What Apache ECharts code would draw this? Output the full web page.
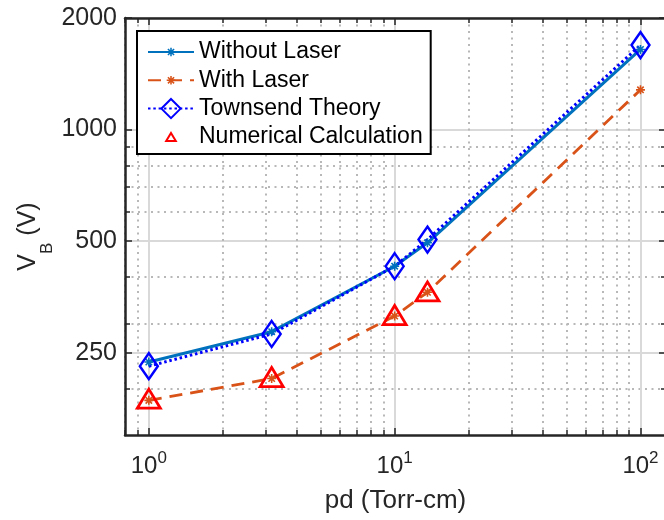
<!DOCTYPE html>
<html>
<head>
<meta charset="utf-8">
<title>Breakdown voltage vs pd</title>
<script src="https://cdn.jsdelivr.net/npm/echarts@6/dist/echarts.min.js"></script>
<style>
  html, body { margin: 0; padding: 0; background: #fff; }
  #chart { width: 664px; height: 520px; }
</style>
</head>
<body>
<div id="chart"></div>
<script>
// pd (Torr-cm)
const pd = [1, 3.16, 10, 13.6, 100];
// breakdown voltage V_B (V)
const withoutLaser = [236, 285, 428, 495, 1645];
const withLaser = [186, 213, 314, 364, 1280];
const townsend = [230, 281, 428, 505, 1690];
const numerical = [188, 215, 316, 366]; // only the first four pd values

// tick values
const xMajor = [1, 10, 100];
const xMinor = [0.8, 0.9, 2, 3, 4, 5, 6, 7, 8, 9, 20, 30, 40, 50, 60, 70, 80, 90];
const yMajor = [250, 500, 1000, 2000];
const yMinor = [200, 300, 400, 600, 700, 800, 900];

const font = 'Liberation Sans';
const axisColor = '#262626';

// marker shapes, padded with empty points so legend icons stay small
const asterisk = 'path://M-4.5,-0.8H4.5V0.8H-4.5Z M-0.8,-4.5H0.8V4.5H-0.8Z ' +
  'M-2.63,-3.77L3.77,2.63L2.63,3.77L-3.77,-2.63Z M-3.77,2.63L2.63,-3.77L3.77,-2.63L-2.63,3.77Z ' +
  'M-10,-10L-10,-10 M10,10L10,10';
const triangle = 'path://M0,-4.15L5,4.15L-5,4.15Z M-10,-10L-10,-10 M10,10L10,10';

function pairs(xs, ys) {
  return ys.map((y, i) => [xs[i], y]);
}

// one log axis; major axes carry lines/labels, minor ones only dotted grid
function axis(position, min, max, ticks, extra) {
  return Object.assign({
    type: 'log',
    logBase: 10,
    position: position,
    min: min,
    max: max,
    nameMoveOverlap: false,
    axisLine: { show: false, onZero: false },
    axisTick: { show: true, inside: true, length: 5, customValues: ticks,
      lineStyle: { color: axisColor, width: 1.5 } },
    axisLabel: { show: false },
    splitLine: { show: false }
  }, extra);
}

const majorGrid = { show: true, lineStyle: { color: '#d9d9d9', width: 2 } };
const minorGrid = { show: true, lineStyle: { color: '#b8b8b8', width: 2, type: [2, 4.5] } };
const line = { show: true, onZero: false, lineStyle: { color: axisColor, width: 2.5 } };
const majorTick = { show: true, inside: true, length: 7, lineStyle: { color: axisColor, width: 1.5 } };

const chart = echarts.init(document.getElementById('chart'));

chart.setOption({
  animation: false,
  backgroundColor: '#fff',
  grid: { left: 125, top: 18, width: 541, height: 417, outerBoundsMode: 'none' },
  legend: {
    orient: 'vertical',
    left: 137,
    top: 31,
    padding: [9, 8, 5, 10],
    itemWidth: 46,
    itemHeight: 24,
    itemGap: 4.3,
    backgroundColor: '#fff',
    borderColor: '#000',
    borderWidth: 2,
    selectedMode: false,
    textStyle: { fontFamily: font, fontSize: 23, color: '#000', lineHeight: 24 },
    data: ['Without Laser', 'With Laser', 'Townsend Theory', 'Numerical Calculation']
  },
  xAxis: [
    axis('bottom', 0.8, 127, xMajor, {
      axisLine: line,
      axisTick: Object.assign({ customValues: xMajor }, majorTick),
      axisLabel: {
        show: true, margin: 15, customValues: xMajor,
        formatter: v => '{b|10}{s|' + Math.round(Math.log10(v)) + '}',
        rich: {
          b: { fontFamily: font, fontSize: 24, lineHeight: 24, padding: [4, 0, 0, 0], verticalAlign: 'top', color: axisColor },
          s: { fontFamily: font, fontSize: 17, lineHeight: 17, verticalAlign: 'top', color: axisColor }
        }
      },
      splitLine: majorGrid,
      name: 'pd (Torr-cm)',
      nameLocation: 'middle',
      nameGap: 53,
      nameTextStyle: { fontFamily: font, fontSize: 26, color: axisColor }
    }),
    axis('bottom', 0.8, 127, xMinor, { splitLine: minorGrid }),
    axis('top', 0.8, 127, xMajor, { axisLine: line, axisTick: Object.assign({ customValues: xMajor }, majorTick) }),
    axis('top', 0.8, 127, xMinor, {})
  ],
  yAxis: [
    axis('left', 150, 2000, yMajor, {
      axisLine: line,
      axisTick: Object.assign({ customValues: yMajor }, majorTick),
      axisLabel: {
        show: true, margin: 8, customValues: yMajor,
        formatter: v => String(Math.round(v)),
        fontFamily: font, fontSize: 25, color: axisColor
      },
      splitLine: majorGrid,
      name: '{a|V}{b|B}{a| (V)}',
      nameLocation: 'middle',
      nameRotate: 90,
      nameGap: 84,
      nameTextStyle: {
        color: axisColor,
        padding: [0, 20, 0, 0],
        rich: {
          a: { fontFamily: font, fontSize: 25, lineHeight: 25, verticalAlign: 'top', color: axisColor },
          b: { fontFamily: font, fontSize: 17, lineHeight: 14, padding: [23, 0, 0, 0], verticalAlign: 'top', color: axisColor }
        }
      }
    }),
    axis('left', 150, 2000, yMinor, { splitLine: minorGrid }),
    axis('right', 150, 2000, yMajor, { axisLine: line, axisTick: Object.assign({ customValues: yMajor }, majorTick) }),
    axis('right', 150, 2000, yMinor, {})
  ],
  series: [
    {
      name: 'Without Laser',
      type: 'line',
      data: pairs(pd, withoutLaser),
      symbol: asterisk,
      symbolSize: 20,
      itemStyle: { color: '#0072BD', borderWidth: 0 },
      lineStyle: { color: '#0072BD', width: 3 }
    },
    {
      name: 'With Laser',
      type: 'line',
      data: pairs(pd, withLaser),
      symbol: asterisk,
      symbolSize: 20,
      itemStyle: { color: '#D95319', borderWidth: 0 },
      lineStyle: { color: '#D95319', width: 2.8, type: [13, 8] }
    },
    {
      name: 'Townsend Theory',
      type: 'line',
      data: pairs(pd, townsend),
      symbol: 'diamond',
      symbolSize: [18, 26],
      itemStyle: { color: 'rgba(0,0,0,0)', borderColor: '#0000ff', borderWidth: 2.5 },
      lineStyle: { color: '#0000ff', width: 3, type: [2.5, 2.8] }
    },
    {
      name: 'Numerical Calculation',
      type: 'line',
      data: pairs(pd, numerical),
      symbol: triangle,
      symbolSize: 46,
      itemStyle: { color: 'rgba(0,0,0,0)', borderColor: '#ff0000', borderWidth: 2.8 },
      lineStyle: { color: '#ff0000', width: 0 }
    }
  ]
});
</script>
</body>
</html>
